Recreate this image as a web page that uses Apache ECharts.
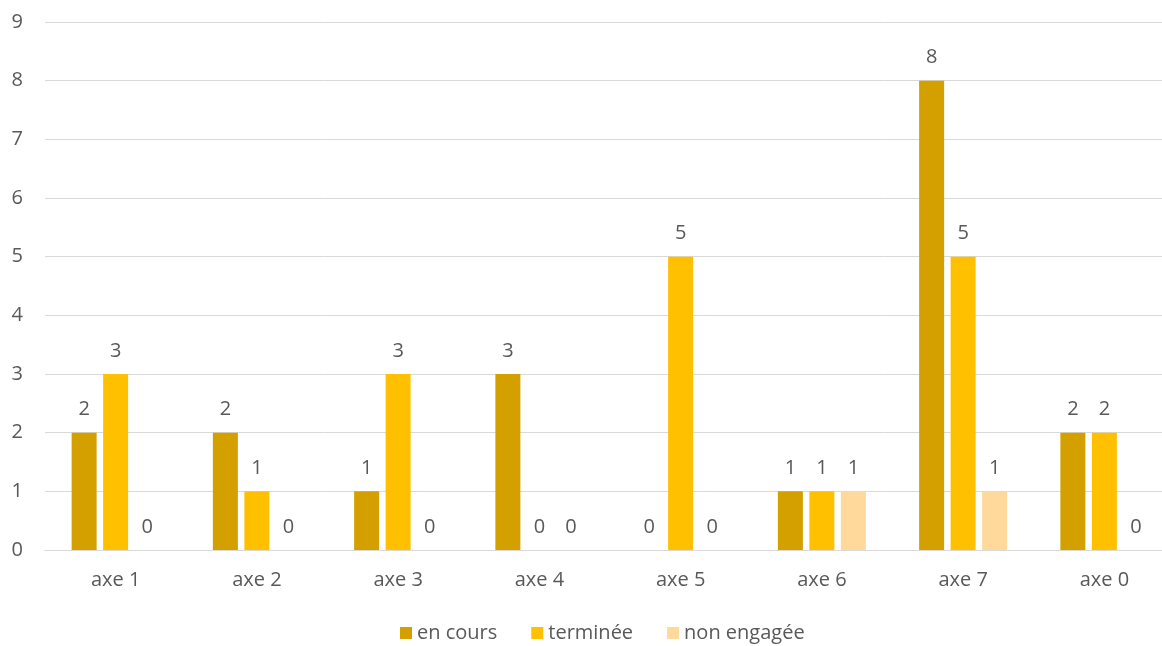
<!DOCTYPE html>
<html>
<head>
<meta charset="utf-8">
<script src="https://cdn.jsdelivr.net/npm/echarts@6/dist/echarts.min.js"></script>
<style>
  html, body { margin: 0; padding: 0; background: #ffffff; }
  #chart { width: 1162px; height: 646px; }
</style>
</head>
<body>
<div id="chart"></div>
<script>
// Actions per axis, grouped by status
const categories = ['axe 1', 'axe 2', 'axe 3', 'axe 4', 'axe 5', 'axe 6', 'axe 7', 'axe 0'];
const enCours = [2, 2, 1, 3, 0, 1, 8, 2];
const terminee = [3, 1, 3, 0, 5, 1, 5, 2];
const nonEngagee = [0, 0, 0, 0, 0, 1, 1, 0];
const seriesNames = ['en cours', 'terminée', 'non engagée'];
const yTicks = [0, 1, 2, 3, 4, 5, 6, 7, 8, 9];

const FONT = '"Open Sans", Lato, sans-serif';
const TEXT = '#595959';
const colors = ['#D4A000', '#FFC000', '#FFD99B'];

function barSeries(name, data, color) {
  return {
    name: name,
    type: 'bar',
    data: data,
    barWidth: 25,
    barGap: '26%',
    itemStyle: { color: color },
    label: {
      show: true,
      position: 'top',
      distance: 13,
      color: TEXT,
      fontFamily: FONT,
      fontSize: 20
    }
  };
}

const chart = echarts.init(document.getElementById('chart'), null, { renderer: 'canvas' });
chart.setOption({
  animation: false,
  backgroundColor: '#ffffff',
  color: colors,
  grid: { left: 45, top: 22, width: 1130, height: 528, containLabel: false, outerBoundsMode: 'none' },
  legend: {
    data: seriesNames,
    top: 618,
    left: 395,
    itemWidth: 12,
    itemHeight: 12,
    itemGap: 34,
    icon: 'rect',
    textStyle: { color: TEXT, fontFamily: FONT, fontSize: 20, padding: [0, 0, 0, 0] }
  },
  xAxis: {
    type: 'category',
    data: categories,
    axisLine: { show: true, lineStyle: { color: '#D9D9D9', width: 1 } },
    axisTick: { show: false },
    axisLabel: { color: TEXT, fontFamily: FONT, fontSize: 20, margin: 20 }
  },
  yAxis: {
    type: 'value',
    min: yTicks[0],
    max: yTicks[yTicks.length - 1],
    interval: 1,
    axisLine: { show: false },
    axisTick: { show: false },
    axisLabel: { color: TEXT, fontFamily: FONT, fontSize: 20, margin: 22 },
    splitLine: { lineStyle: { color: '#D9D9D9', width: 1 } }
  },
  series: [
    barSeries(seriesNames[0], enCours, colors[0]),
    barSeries(seriesNames[1], terminee, colors[1]),
    barSeries(seriesNames[2], nonEngagee, colors[2])
  ]
});
</script>
</body>
</html>
